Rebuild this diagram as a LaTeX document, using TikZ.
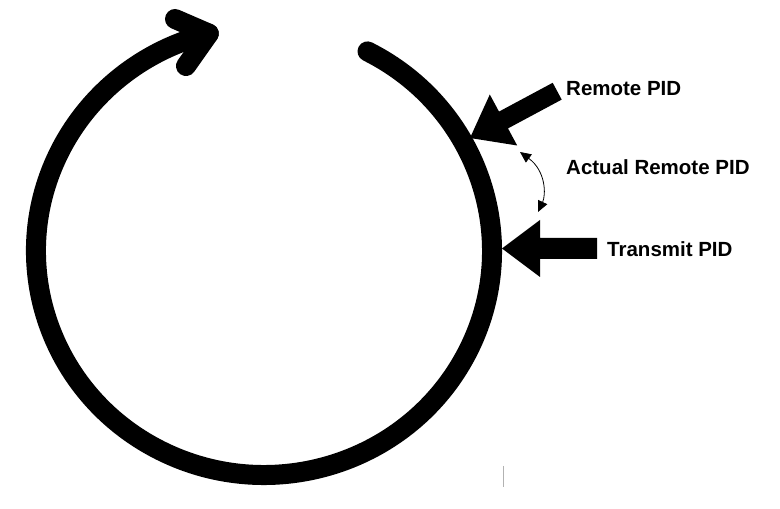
\documentclass[tikz,border=0pt]{standalone}
\usepackage{fontspec}
\setmainfont{Liberation Sans}
\usetikzlibrary{arrows.meta}
\begin{document}
\begin{tikzpicture}[x=1pt,y=1pt,
  ring/.style={line width=20pt,line cap=round,line join=round},
  blockarrow/.style={fill=black,draw=none},
  lbl/.style={anchor=base west,inner sep=0pt,font=\bfseries\fontsize{20.5}{24}\selectfont},
  thin/.style={line width=0.8pt,{Triangle[length=11pt,width=10pt]}-{Triangle[length=11pt,width=10pt]}}]
\useasboundingbox (0,0) rectangle (780,509);
% ring with arrowhead
\coordinate (rstart) at (367.5,457.6);
\draw[ring] (rstart) arc[start angle=63, end angle=-256, x radius=228, y radius=224] coordinate (rend);
\coordinate (armA) at (175,490);
\coordinate (armB) at (186,443);
\draw[ring] (armA) -- (rend) -- (armB);
% remote PID block arrow
\fill[blockarrow] (470,371) -- (489.8,414.5) -- (499,397.4) -- (552.7,426.2) -- (561.7,409.4) -- (508,380.6) -- (517.2,363.5) -- cycle;
% transmit PID block arrow
\fill[blockarrow] (502,260.5) -- (540,289) -- (540,271) -- (597,271) -- (597,250) -- (540,250) -- (540,232) -- cycle;
% curved double arrow
\coordinate (ca) at (520,357);
\coordinate (cb) at (538,297);
\draw[thin] (ca) .. controls (546,338) and (546,314) .. (cb);
% labels
\node[lbl] (remote) at (566,413) {Remote PID};
\node[lbl] (actual) at (566,334) {Actual Remote PID};
\node[lbl] (transmit) at (607,252) {Transmit PID};
% small gray mark
\coordinate (ga) at (503,43);
\coordinate (gb) at (503,22);
\draw[gray!60,line width=0.9pt] (ga) -- (gb);
\end{tikzpicture}
\end{document}
